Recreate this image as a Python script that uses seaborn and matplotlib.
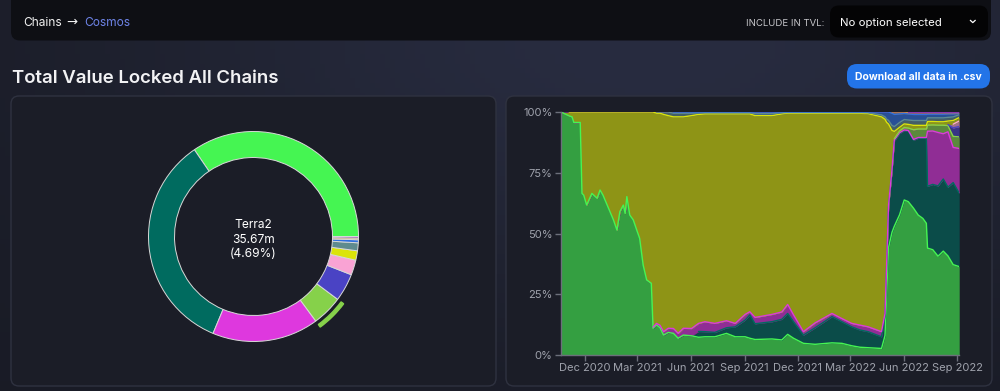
import numpy as np
import pandas as pd
import matplotlib.pyplot as plt
import matplotlib.dates as mdates
from matplotlib.patches import FancyBboxPatch, Wedge
from matplotlib.colors import to_rgb
import seaborn as sns

# chains, donut colours and current TVL (millions USD)
chains = ["Kava", "Osmosis", "Secret", "Terra2", "Juno", "Crescent",
          "Terra", "Injective", "Evmos", "Stargaze", "Sifchain"]
chain_colors = ["#45f552", "#006b5f", "#de38de", "#86d14a", "#4a43c4", "#f9a3d4",
                "#dbe40a", "#5f8b8f", "#3070e0", "#c89050", "#8a35b0"]
tvl_now = [262.5, 260.0, 124.7, 35.67, 32.5, 17.5, 11.0, 9.3, 3.5, 2.0, 1.8]
highlight = "Terra2"

# dominance over time (% of cosmos TVL)
dates = ["2020-10-21", "2020-11-04", "2020-11-09", "2020-11-12", "2020-11-23", "2020-11-26",
         "2020-11-29", "2020-12-04", "2020-12-13", "2020-12-22", "2020-12-27", "2021-01-01",
         "2021-01-07", "2021-01-13", "2021-01-19", "2021-01-25", "2021-01-30", "2021-02-05",
         "2021-02-08", "2021-02-11", "2021-02-16", "2021-02-22", "2021-02-28", "2021-03-05",
         "2021-03-11", "2021-03-17", "2021-03-25", "2021-03-28", "2021-04-03", "2021-04-09",
         "2021-04-15", "2021-04-23", "2021-05-02", "2021-05-10", "2021-05-19", "2021-06-02",
         "2021-06-14", "2021-06-25", "2021-07-12", "2021-08-01", "2021-08-16", "2021-09-02",
         "2021-09-10", "2021-09-19", "2021-10-18", "2021-11-04", "2021-11-14", "2021-11-24",
         "2021-12-11", "2021-12-31", "2022-01-29", "2022-02-15", "2022-03-04", "2022-03-18",
         "2022-04-01", "2022-04-24", "2022-04-30", "2022-05-03", "2022-05-06", "2022-05-12",
         "2022-05-16", "2022-05-25", "2022-06-02", "2022-06-09", "2022-06-18", "2022-06-26",
         "2022-07-04", "2022-07-10", "2022-07-12", "2022-07-21", "2022-07-30", "2022-08-08",
         "2022-08-16", "2022-08-25", "2022-09-04"]

kava = [100, 98.4, 98.0, 95.7, 95.7, 66.5, 65.8, 61.7, 66.5, 64.5, 67.9, 65.8,
        62.4, 59.0, 55.6, 51.4, 59.0, 61.7, 58.3, 65.2, 57.6, 55.6, 51.4, 48.0,
        37.0, 30.9, 29.5, 11.0, 12.3, 11.2, 8.2, 9.3, 8.9, 6.9, 8.2, 7.9,
        7.3, 7.5, 7.5, 8.9, 7.5, 7.5, 6.9, 6.4, 6.6, 6.2, 8.5, 6.9,
        4.8, 4.4, 5.0, 4.8, 3.8, 3.2, 3.0, 2.7, 8.0, 26.0, 44.6, 50.0,
        53.0, 57.6, 63.8, 63.1, 60.4, 57.6, 56.2, 54.2, 43.9, 43.2, 40.5, 42.5,
        40.5, 37.0, 35.9]
osmosis = [0] * 36 + [2.4, 2.1, 1.8, 2.3, 4.1, 6.9, 9.6, 6.5, 7.1, 8.5, 8.6, 6.8,
                      3.4, 6.8, 10.8, 8.9, 7.8, 7.1, 6.6, 4.8, 8.0, 12.0, 17.0, 25.0,
                      35.0, 33.4, 28.5, 29.0, 28.0, 31.6, 33.0, 35.0, 25.4, 26.8, 28.8, 29.5,
                      28.1, 33.6, 29.9]
secret = [0] * 27 + [0.5, 0.7, 1.0, 1.4, 1.7, 2.0, 2.0, 2.8, 3.0,
                     3.3, 4.1, 3.7, 2.9, 1.4, 2.3, 1.3, 2.6, 3.0, 3.0, 3.7, 2.8,
                     1.4, 2.0, 1.3, 1.3, 1.4, 2.0, 2.0, 2.1, 1.0, 0.7, 0.5, 0.5,
                     0.5, 0.3, 0.3, 0.3, 0.3, 0.3, 0.3, 0.3, 22.6, 21.9, 21.9, 18.5,
                     22.6, 14.4, 18.0]
terra2 = [0] * 60 + [0.5, 0.7, 1.0, 1.0, 4.0, 3.5, 3.5, 3.5, 2.5, 2.5, 3.0, 3.5,
                     2.5, 4.5, 4.7]
juno = [0] * 72 + [0.5, 3.5, 4.2]
crescent = [0] * 73 + [1.5, 2.2]
terra = [0, 1.6, 2.0, 4.3, 4.3, 33.5, 34.2, 38.3, 33.5, 35.5, 32.1, 34.2,
         37.6, 41.0, 44.4, 48.6, 41.0, 38.3, 41.7, 34.8, 42.4, 44.4, 48.6, 52.0,
         63.0, 69.1, 70.5, 88.5, 86.5, 87.3, 89.4, 87.5, 87.1, 89.1, 87.0, 87.6,
         86.0, 85.5, 86.2, 85.1, 86.2, 82.5, 81.4, 83.3, 81.8, 81.5, 78.7, 83.0,
         89.9, 86.3, 82.4, 84.5, 86.5, 87.2, 87.7, 88.4, 80.0, 57.0, 34.0, 16.0,
         3.0, 1.5, 1.5, 1.5, 1.8, 1.5, 1.5, 1.5, 1.5, 1.4, 1.4, 1.4,
         1.4, 1.5, 1.4]
injective = [0] * 28 + [0.5, 0.5, 1.0, 1.5, 1.5, 1.5, 1.5, 1.0,
                        0.6, 0.5, 0.5, 0.5, 0.5, 0.5, 0.5, 0.8, 0.8, 0.5, 0.3, 0.3,
                        0.3, 0.3, 0.3, 0.3, 0.3, 0.3, 0.4, 0.8, 1.0, 1.3, 1.5, 2.0,
                        2.0, 2.0, 1.8, 1.8, 2.0, 2.0, 2.0, 2.0, 1.5, 1.5, 1.6, 1.6,
                        1.5, 1.5, 1.2]
evmos = [0] * 32 + [0.5, 0.5, 0.5, 0.5,
                    0.4, 0.3, 0.3, 0.3, 0.3, 0.3, 0.3, 0.7, 0.7, 0.3, 0.2, 0.2,
                    0.2, 0.2, 0.2, 0.2, 0.2, 0.2, 0.3, 1.2, 2.0, 3.0, 3.5, 5.0,
                    5.0, 3.5, 2.5, 2.5, 2.5, 2.5, 2.5, 2.5, 1.5, 1.5, 1.5, 1.5,
                    1.4, 1.2, 0.5]
stargaze = [0] * 59 + [0.5, 1.0, 0.8, 0.6, 0.6, 0.7, 0.7, 0.7, 0.7, 0.6, 0.6, 0.6, 0.6,
                       0.5, 0.5, 0.3]
sifchain = [0] * 63 + [0.2, 0.3, 0.3, 0.3, 0.3, 0.3, 0.3, 0.3, 0.3, 0.3, 0.3, 0.3]

history = [kava, osmosis, secret, terra2, juno, crescent, terra,
           injective, evmos, stargaze, sifchain]

sns.set_theme(style="dark")
plt.rcParams["font.family"] = ["Inter", "DejaVu Sans"]

BG = np.array([27, 29, 39]) / 255
W, H = 1000, 391
fig = plt.figure(figsize=(W / 100, H / 100), dpi=100)

# page in pixel coordinates
page = fig.add_axes([0, 0, 1, 1])
page.set_xlim(0, W)
page.set_ylim(H, 0)
page.axis("off")
gx, gy = np.meshgrid(np.linspace(0, W, 200), np.linspace(0, H, 80))
wgt = np.exp(-((gx - 650) / 520) ** 2 - ((gy - 40) / 260) ** 2)
dark, light = np.array([25, 27, 37]) / 255, np.array([40, 44, 64]) / 255
grad = dark + (light - dark) * wgt[..., None]
page.imshow(grad, extent=[0, W, H, 0], aspect="auto", zorder=0)


def box(x0, y0, x1, y1, fc, ec="none", r=8, lw=1):
    page.add_patch(FancyBboxPatch((x0, y0), x1 - x0, y1 - y0,
                                  boxstyle=f"round,pad=0,rounding_size={r}",
                                  fc=fc, ec=ec, lw=lw, zorder=1))


box(11, -12, 991, 40.5, "#0e0f14", r=9)
box(830, 5.5, 988, 37.5, "#040405", r=9)
box(847, 64, 990, 88.5, "#2374e8", r=10)
box(11, 96, 496, 386, "#1b1d27", ec="#2f3240")
box(506, 96, 992, 386, "#1b1d27", ec="#2f3240")

page.text(23.5, 26.5, "Chains", color="#f2f2f2", fontsize=8.6, zorder=3)
page.text(66.0, 26.0, "→", color="#f2f2f2", fontsize=9.5, family="DejaVu Sans", zorder=3)
page.text(84.3, 26.5, "Cosmos", color="#6e84e8", fontsize=8.6, zorder=3)
page.text(824, 25.7, "INCLUDE IN TVL:", color="#c8c8cc", fontsize=6.9, ha="right", zorder=3)
page.text(840, 26.5, "No option selected", color="#ffffff", fontsize=8.2, zorder=3)
page.plot([970.3, 972.8, 975.3], [20.3, 22.6, 20.3], color="white", lw=0.9, zorder=3)
page.text(12, 83.3, "Total Value Locked All Chains", color="#f2f2f4", fontsize=13.4,
          fontweight="semibold", zorder=3)
page.text(918.5, 80, "Download all data in .csv", color="white", fontsize=7.5,
          fontweight="bold", ha="center", zorder=3)

palette = sns.color_palette(chain_colors)

# donut
cx, cy, half = 253.5, 236.5, 120
axd = fig.add_axes([(cx - half) / W, (H - cy - half) / H, 2 * half / W, 2 * half / H])
wedges, _ = axd.pie(tvl_now, colors=palette, startangle=0, counterclock=True, radius=105,
                    wedgeprops=dict(width=26, edgecolor="#d8d8d8", linewidth=0.7))
axd.set_xlim(-half, half)
axd.set_ylim(-half, half)
axd.set_aspect("equal")
axd.axis("off")
k = chains.index(highlight)
axd.add_patch(Wedge((0, 0), 112.5, wedges[k].theta1, wedges[k].theta2, width=3.2,
                    color=palette[k]))
total = sum(tvl_now)
label_kw = dict(color="white", fontsize=8.6, ha="center", va="baseline")
axd.text(0, 8.2, highlight, **label_kw)
axd.text(0, -6.2, f"{tvl_now[k]:.2f}m", **label_kw)
axd.text(0, -20.2, f"({tvl_now[k] / total * 100:.2f}%)", **label_kw)

# stacked dominance chart
df = pd.DataFrame(dict(zip(chains, history)))
df["date"] = pd.to_datetime(dates)
shares = df[chains].div(df[chains].sum(axis=1), axis=0) * 100
top = shares.cumsum(axis=1)
bottom = top - shares

ax = fig.add_axes([561 / W, (H - 355) / H, 398 / W, 243 / H])
ax.set_facecolor("none")
for name, col in zip(chains, palette):
    fill = 0.6 * np.array(to_rgb(col)) + 0.4 * BG
    ax.fill_between(df["date"], bottom[name], top[name], color=fill, lw=0.3, ec=fill)
for name, col in zip(chains, palette):
    ax.plot(df["date"], top[name].where(shares[name] > 0), color=col, lw=1)

ax.set_xlim(df["date"].iloc[0], df["date"].iloc[-1])
ax.set_ylim(0, 100)
ax.set_yticks([0, 25, 50, 75, 100])
ax.yaxis.set_major_formatter(lambda v, p: f"{v:.0f}%")
ax.xaxis.set_major_locator(mdates.MonthLocator(bymonth=[3, 6, 9, 12]))
ax.xaxis.set_major_formatter(mdates.DateFormatter("%b %Y"))
ax.grid(False)
sns.despine(ax=ax)
for s in ["left", "bottom"]:
    ax.spines[s].set_color("#6c6f7b")
    ax.spines[s].set_linewidth(1)
ax.tick_params(colors="#6c6f7b", labelcolor="#9fa2ac", length=4, width=1,
               labelsize=8.0, pad=2, left=True, bottom=True)

fig.savefig("out.png", dpi=100)
